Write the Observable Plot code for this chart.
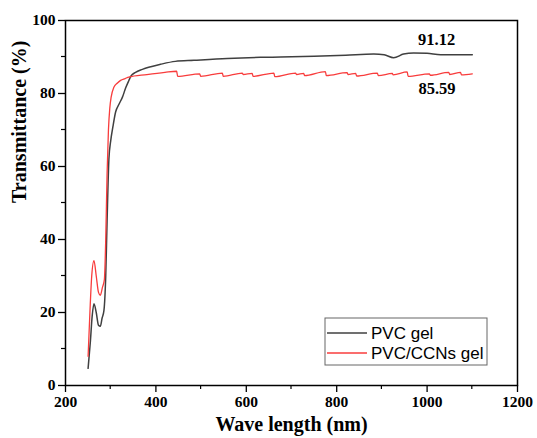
<!DOCTYPE html>
<html>
<head>
<meta charset="utf-8">
<script src="https://cdn.jsdelivr.net/npm/d3@7"></script>
<script src="https://cdn.jsdelivr.net/npm/@observablehq/plot@0.6"></script>
<style>
  body { margin: 0; background: #fff; }
  #chart { width: 537px; height: 438px; }
</style>
</head>
<body>
<div id="chart"></div>
<script>
// PVC gel (black) transmittance spectrum
const pvcWave = [250,255,259,263,268,273,277,281,285,289,292,296,300,305,311,318,326,333,340,345,355,370,384,410,443,484,558,631,676,750,820,882,905,926,948,970,1000,1030,1060,1100];
const pvcT    = [4.7,12,19,22.4,20,16.5,16.2,18.5,20.5,30,45,62,67,71,75,77,79,81.5,83.5,84.8,85.8,86.6,87.2,88,88.8,89.1,89.6,89.9,90,90.2,90.5,90.8,90.6,89.8,90.8,91.1,91,90.6,90.6,90.6];

// PVC/CCNs gel (red) transmittance spectrum
const ccnWave = [250,254,258,263,268,273,277,282,286,289,292,295,298,301,307,315,322,332,340,380,420,446,448,497,499,547,549,591,593,613,615,661,663,709,711,727,729,775,777,823,825,842,844,890,892,923,925,956,958,1005,1007,1048,1050,1074,1076,1100];
const ccnT    = [8,20,30,34.2,30,25.5,24.7,27,29,40,58,70,76,79,81.7,82.9,83.6,84.1,84.5,85.2,85.8,86.1,84.7,85.4,84.7,85.6,84.7,85.6,85.2,85.5,84.7,85.6,84.6,85.6,85.2,85.5,84.9,86,84.9,85.7,85.2,85.5,84.8,85.6,84.9,85.5,85.1,85.9,84.7,85.4,85.0,85.8,85.2,85.8,85.1,85.4];

const seriesNames = ["PVC gel", "PVC/CCNs gel"];
const seriesColors = ["#404040", "#f83c3c"];

const xMajor = [200,400,600,800,1000,1200];
const xMinor = [300,500,700,900,1100];
const yMajor = [0,20,40,60,80,100];
const yMinor = [10,30,50,70,90];

// end-value annotations
const annoText = ["91.12", "85.59"];
const annoWave = [1021, 1022];
const annoT    = [94.6, 81.4];

const pvc = pvcWave.map((w, i) => ({w, t: pvcT[i]}));
const ccn = ccnWave.map((w, i) => ({w, t: ccnT[i]}));
const anno = annoText.map((s, i) => ({s, w: annoWave[i], t: annoT[i]}));

const serif = "Liberation Serif";
const txt = {fontFamily: serif, fontWeight: "bold", fill: "#000"};

const plot = Plot.plot({
  width: 537,
  height: 438,
  marginLeft: 65,
  marginRight: 20,
  marginTop: 20,
  marginBottom: 53,
  style: {fontFamily: serif, fontWeight: "bold", fontSize: "15.5px", color: "#000", background: "#fff"},
  x: {domain: [200, 1200]},
  y: {domain: [0, 100]},
  marks: [
    Plot.axisX({ticks: xMajor, tickSize: 7, tickPadding: 3, label: null, tickFormat: d => String(d), strokeWidth: 1.3, fontFamily: serif, fontWeight: "bold", fontSize: 15.5}),
    Plot.axisY({ticks: yMajor, tickSize: 7, tickPadding: 3, label: null, tickFormat: d => String(d), strokeWidth: 1.3, fontFamily: serif, fontWeight: "bold", fontSize: 15.5}),
    Plot.line(pvc, {x: "w", y: "t", stroke: seriesColors[0], strokeWidth: 1.5, curve: "monotone-x"}),
    Plot.line(ccn, {x: "w", y: "t", stroke: seriesColors[1], strokeWidth: 1.3, curve: "monotone-x"}),
    Plot.text(anno, {x: "w", y: "t", text: "s", fontSize: 16.5, ...txt}),
    Plot.text(["Wave length (nm)"], {frameAnchor: "bottom", dy: 45, fontSize: 20, ...txt}),
    Plot.text(["Transmittance (%)"], {frameAnchor: "left", dx: -46, rotate: -90, fontSize: 20, ...txt}),
    Plot.frame({stroke: "#000", strokeWidth: 1.5})
  ]
});

document.getElementById("chart").appendChild(plot);

// Minor ticks drawn with the plot's own scales
const sx = plot.scale("x"), sy = plot.scale("y");
const svg = d3.select(plot);
const mt = svg.append("g").attr("stroke", "#000").attr("stroke-width", 1.2);
const x0 = sx.apply(200), y0 = sy.apply(0);
xMinor.forEach(v => {
  const px = sx.apply(v);
  mt.append("line").attr("x1", px).attr("x2", px).attr("y1", y0).attr("y2", y0 + 4);
});
yMinor.forEach(v => {
  const py = sy.apply(v);
  mt.append("line").attr("x1", x0).attr("x2", x0 - 4).attr("y1", py).attr("y2", py);
});

// Legend (inside plot, lower right)
const lg = svg.append("g").attr("font-family", "Liberation Sans").attr("font-weight", "normal").attr("text-anchor", "start");
lg.append("rect").attr("x", 325).attr("y", 318).attr("width", 162).attr("height", 47)
  .attr("fill", "#fff").attr("stroke", "#666").attr("stroke-width", 1);
seriesNames.forEach((name, i) => {
  const y = 333 + i * 20;
  lg.append("line").attr("x1", 327).attr("x2", 367).attr("y1", y).attr("y2", y)
    .attr("stroke", seriesColors[i]).attr("stroke-width", 1.4);
  lg.append("text").attr("x", 371).attr("y", y).attr("dy", "0.36em")
    .attr("font-size", 17).attr("fill", "#000").text(name);
});
</script>
</body>
</html>
